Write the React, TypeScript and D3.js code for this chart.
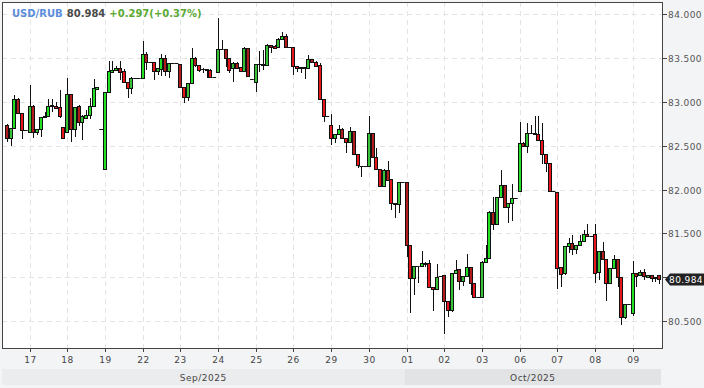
import * as d3 from "d3";

// USD/RUB hourly candles, 16 Sep - 09 Oct 2025 (one row per trading day)
const opens = [
  82.736, 82.584, 82.698, 83.029, 82.869, 82.675,
  82.660, 82.953, 82.660, 82.690, 82.824, 82.843, 82.965, 82.953, 82.938, 82.710,
  82.652, 83.090, 82.690, 82.953, 82.774, 82.820, 82.846, 82.953, 83.143, 82.690,
  82.230, 83.109, 83.345, 83.364, 83.383, 83.352, 83.223, 83.155, 83.276, 83.276,
  83.269, 83.543, 83.459, 83.459, 83.353, 83.375, 83.505, 83.352, 83.440, 83.440,
  83.429, 83.174, 83.060, 83.212, 83.505, 83.421, 83.376, 83.370, 83.364, 83.280,
  83.338, 83.604, 83.604, 83.497, 83.383, 83.440, 83.400, 83.353, 83.612, 83.265,
  83.224, 83.433, 83.433, 83.425, 83.649, 83.642, 83.630, 83.717, 83.756, 83.623,
  83.623, 83.414, 83.400, 83.400, 83.391, 83.486, 83.459, 83.425, 83.033, 82.843,
  82.736, 82.584, 82.630, 82.691, 82.584, 82.539, 82.668, 82.402, 82.272, 82.272,
  82.272, 82.641, 82.375, 82.234, 82.044, 82.223, 82.120, 81.842, 81.831, 82.082,
  82.082, 81.366, 80.985, 81.126, 81.126, 81.164, 81.157, 80.883, 80.860, 81.012,
  81.024, 80.731, 80.624, 81.050, 81.088, 80.959, 81.012, 81.111, 80.928, 80.769,
  80.769, 81.176, 81.214, 81.746, 81.602, 81.910, 82.047, 81.804, 81.849, 81.899,
  81.979, 82.527, 82.496, 82.641, 82.641, 82.633, 82.565, 82.405, 82.306, 81.986,
  81.967, 81.111, 81.043, 81.355, 81.385, 81.317, 81.362, 81.412, 81.492, 81.469,
  81.492, 81.062, 81.298, 81.202, 80.929, 81.100, 81.202, 81.005, 80.548, 80.689,
  80.586, 81.043, 81.024, 81.062, 81.005, 81.030, 80.986, 81.020,
];
const highs = [
  82.744, 82.698, 83.078, 83.040, 82.869, 82.675,
  83.193, 82.960, 82.690, 82.830, 82.888, 83.029, 83.029, 83.000, 83.136, 82.710,
  83.269, 83.090, 82.940, 82.960, 82.850, 82.910, 83.040, 83.261, 83.170, 82.690,
  83.109, 83.467, 83.467, 83.410, 83.467, 83.370, 83.223, 83.280, 83.276, 83.276,
  83.695, 83.566, 83.459, 83.460, 83.390, 83.543, 83.540, 83.440, 83.440, 83.440,
  83.430, 83.174, 83.220, 83.611, 83.510, 83.421, 83.390, 83.375, 83.370, 83.280,
  83.954, 83.707, 83.604, 83.500, 83.450, 83.450, 83.400, 83.630, 83.620, 83.265,
  83.433, 83.581, 83.593, 83.660, 83.650, 83.645, 83.726, 83.794, 83.780, 83.623,
  83.623, 83.414, 83.400, 83.400, 83.535, 83.490, 83.470, 83.440, 83.033, 82.843,
  82.858, 82.630, 82.737, 82.706, 82.584, 82.718, 82.668, 82.402, 82.272, 82.272,
  82.843, 82.650, 82.470, 82.234, 82.230, 82.326, 82.120, 81.842, 82.082, 82.082,
  82.089, 81.366, 81.130, 81.130, 81.300, 81.170, 81.190, 80.883, 81.149, 81.012,
  81.024, 80.731, 81.050, 81.195, 81.088, 81.012, 81.263, 81.111, 80.928, 80.769,
  81.180, 81.366, 81.750, 81.910, 81.910, 82.222, 82.047, 81.849, 82.062, 81.899,
  82.766, 82.540, 82.760, 82.736, 82.838, 82.838, 82.760, 82.405, 82.306, 81.986,
  81.971, 81.111, 81.355, 81.442, 81.480, 81.362, 81.480, 81.537, 81.606, 81.469,
  81.606, 81.298, 81.404, 81.202, 81.100, 81.252, 81.202, 81.005, 80.689, 80.689,
  81.187, 81.043, 81.081, 81.090, 81.025, 81.030, 81.000, 81.020,
];
const lows = [
  82.538, 82.500, 82.690, 82.869, 82.576, 82.675,
  82.660, 82.584, 82.622, 82.603, 82.820, 82.840, 82.888, 82.920, 82.812, 82.584,
  82.650, 82.546, 82.603, 82.730, 82.565, 82.800, 82.800, 82.950, 83.140, 82.690,
  82.230, 83.100, 83.330, 83.360, 83.250, 83.220, 83.048, 83.090, 83.276, 83.276,
  83.269, 83.364, 83.459, 83.250, 83.307, 83.300, 83.290, 83.270, 83.440, 83.440,
  83.170, 82.984, 83.010, 83.210, 83.400, 83.338, 83.330, 83.270, 83.280, 83.280,
  83.330, 83.600, 83.395, 83.326, 83.231, 83.380, 83.350, 83.350, 83.290, 83.265,
  83.117, 83.345, 83.364, 83.420, 83.555, 83.600, 83.620, 83.710, 83.620, 83.623,
  83.310, 83.345, 83.327, 83.260, 83.390, 83.450, 83.410, 83.029, 82.765, 82.843,
  82.508, 82.527, 82.625, 82.584, 82.413, 82.539, 82.402, 82.242, 82.147, 82.272,
  82.270, 82.375, 82.234, 82.044, 82.044, 82.109, 81.766, 81.679, 81.728, 82.082,
  81.234, 80.586, 80.795, 80.936, 81.120, 81.120, 80.883, 80.616, 80.860, 81.012,
  80.350, 80.548, 80.600, 81.050, 80.853, 80.900, 81.012, 80.795, 80.769, 80.769,
  80.769, 81.176, 81.214, 81.537, 81.600, 81.910, 81.800, 81.613, 81.644, 81.899,
  81.979, 82.490, 82.412, 82.640, 82.630, 82.560, 82.290, 82.200, 81.986, 81.986,
  80.860, 80.890, 81.030, 81.270, 81.250, 81.263, 81.360, 81.410, 81.469, 81.469,
  80.928, 80.966, 81.202, 80.731, 80.929, 81.100, 80.883, 80.449, 80.518, 80.689,
  80.556, 80.890, 81.024, 80.970, 81.005, 80.950, 80.940, 80.925,
];
const closes = [
  82.584, 82.698, 83.029, 82.869, 82.675, 82.675,
  82.953, 82.660, 82.690, 82.824, 82.843, 82.953, 82.950, 82.926, 82.843, 82.584,
  83.090, 82.690, 82.938, 82.774, 82.839, 82.850, 82.953, 83.155, 83.170, 82.690,
  83.109, 83.352, 83.364, 83.383, 83.345, 83.223, 83.155, 83.276, 83.276, 83.276,
  83.543, 83.459, 83.459, 83.353, 83.383, 83.505, 83.352, 83.440, 83.440, 83.440,
  83.174, 83.060, 83.212, 83.505, 83.421, 83.364, 83.376, 83.364, 83.280, 83.280,
  83.604, 83.604, 83.497, 83.364, 83.440, 83.391, 83.353, 83.612, 83.300, 83.265,
  83.433, 83.433, 83.425, 83.649, 83.623, 83.612, 83.717, 83.756, 83.623, 83.623,
  83.414, 83.391, 83.390, 83.390, 83.486, 83.452, 83.414, 83.033, 82.843, 82.843,
  82.584, 82.630, 82.691, 82.584, 82.539, 82.668, 82.402, 82.280, 82.272, 82.272,
  82.641, 82.375, 82.234, 82.044, 82.223, 82.109, 81.842, 81.835, 82.082, 82.082,
  81.366, 80.985, 81.126, 81.126, 81.164, 81.160, 80.883, 80.860, 80.997, 81.012,
  80.731, 80.624, 81.050, 81.080, 80.959, 81.012, 81.111, 80.928, 80.769, 80.769,
  81.176, 81.214, 81.746, 81.602, 81.910, 82.047, 81.804, 81.849, 81.899, 81.899,
  82.527, 82.496, 82.641, 82.641, 82.633, 82.565, 82.405, 82.306, 81.986, 81.986,
  81.100, 81.031, 81.355, 81.385, 81.317, 81.362, 81.412, 81.492, 81.469, 81.469,
  81.050, 81.298, 81.202, 80.929, 81.100, 81.202, 81.005, 80.548, 80.689, 80.689,
  81.050, 81.012, 81.062, 81.012, 81.025, 80.990, 81.000, 80.984,
];

const dayLabels = ["17", "18", "19", "22", "23", "24", "25", "26", "29", "30", "01", "02", "03", "06", "07", "08", "09"];
const dayStarts = [6, 16, 26, 36, 46, 56, 66, 76, 86, 96, 106, 116, 126, 136, 146, 156, 166];
const monthLabels = ["Sep/2025", "Oct/2025"];
const monthStarts = [0, 106];
const priceTicks = [80.5, 81, 81.5, 82, 82.5, 83, 83.5, 84];

const symbol = "USD/RUB";
const lastPrice = "80.984";
const change = "+0.297(+0.37%)";

const W = 704;
const H = 388;
const left = 2;
const top = 2;
const right = 663;
const bottom = 349;

const font = "'DejaVu Sans', sans-serif";

export default function App() {
  const n = closes.length;
  const x = d3.scaleBand<number>().domain(d3.range(n)).range([5, 661]);
  const y = d3.scaleLinear().domain([80.18, 84.14]).range([bottom, top]);
  const step = x.step();
  const cx = (i: number) => (x(i) as number) + step / 2;
  const fmt = d3.format(".3f");

  const dir = (i: number) => Math.sign(closes[i] - opens[i]);
  const prevDir = (i: number) => {
    for (let k = i - 1; k >= 0; k--) if (dir(k) !== 0) return dir(k);
    return 0;
  };

  const candles = d3.range(n).map((i) => {
    const c = cx(i);
    const bx = Math.round(c - 2) + 0.5;
    const wx = Math.round(c - 2) + 2.5;
    const o = opens[i];
    const cl = closes[i];
    const hi = Math.max(highs[i], o, cl);
    const lo = Math.min(lows[i], o, cl);
    const d = dir(i);
    const turn = prevDir(i) !== d;
    const fill = d > 0 ? (turn ? "#38c238" : "#22e022") : turn ? "#b01c1c" : "#e8161b";
    const yt = Math.round(y(Math.max(o, cl))) + 0.5;
    const yb = Math.round(y(Math.min(o, cl))) + 0.5;
    return (
      <g key={i}>
        {hi > lo && (
          <line x1={wx} x2={wx} y1={Math.round(y(hi))} y2={Math.round(y(lo))} stroke="#111" strokeWidth={1} />
        )}
        {d === 0 ? (
          <line x1={c - step / 2} x2={c + step / 2} y1={yt} y2={yt} stroke="#111" strokeWidth={1} />
        ) : (
          <rect x={bx} y={yt} width={3} height={Math.max(1, yb - yt)} fill={fill} stroke="#111" strokeWidth={1} />
        )}
      </g>
    );
  });

  const lastY = Math.round(y(closes[n - 1])) + 0.5;

  return (
    <svg
      width={W}
      height={H}
      style={{ position: "absolute", left: 0, top: 0, display: "block" }}
      fontFamily={font}
    >
      <rect width={W} height={H} fill="#f3f4f6" />
      <rect x={left} y={top} width={right - left} height={bottom - top} fill="#fff" />

      {/* grid */}
      {priceTicks.map((t) => (
        <line key={t} x1={left} x2={right} y1={Math.round(y(t)) + 0.5} y2={Math.round(y(t)) + 0.5}
          stroke="#e4e4e4" strokeDasharray="5,4" />
      ))}
      {dayStarts.map((s) => (
        <line key={s} x1={Math.round(cx(s)) + 0.5} x2={Math.round(cx(s)) + 0.5} y1={top} y2={bottom}
          stroke="#e4e4e4" strokeDasharray="5,4" />
      ))}

      {/* header */}
      <text x={12} y={17} fontSize={10} fontWeight="bold">
        <tspan fill="#5b8ddb">{symbol}</tspan>
        <tspan fill="#4a4a4a" dx={4}>{lastPrice}</tspan>
        <tspan fill="#5aaa35" dx={4}>{change}</tspan>
      </text>

      {candles}

      {/* frame */}
      <rect x={left + 0.5} y={top + 0.5} width={right - left - 1} height={bottom - top - 1}
        fill="none" stroke="#444" strokeWidth={1} />

      {/* right axis: labels hidden where the last-price tag sits */}
      {priceTicks.map((t) => {
        const ty = Math.round(y(t)) + 0.5;
        return (
          <g key={t} transform={`translate(0,${ty})`}>
            <line x1={right} x2={right + 4} stroke="#444" />
            {Math.abs(ty - lastY) > 10 && (
              <text x={right + 5} dy="0.35em" fontSize={9} fill="#555" letterSpacing={0.4}>{fmt(t)}</text>
            )}
          </g>
        );
      })}

      {/* last price tag */}
      <g transform={`translate(0,${lastY})`}>
        <path d={`M${right + 2},0 L${right + 7},-6 L${W},-6 L${W},6 L${right + 7},6 Z`} fill="#222" />
        <text x={right + 6} dy="0.35em" fontSize={9} fill="#fff" letterSpacing={0.4}>{lastPrice}</text>
      </g>

      {/* bottom axis */}
      {dayStarts.map((s, k) => (
        <g key={s} transform={`translate(${Math.round(cx(s)) + 0.5},0)`}>
          <line y1={bottom} y2={bottom + 3} stroke="#444" />
          <text y={bottom + 14} textAnchor="middle" fontSize={9} fill="#444" letterSpacing={0.6}>{dayLabels[k]}</text>
        </g>
      ))}

      {/* month bands */}
      {monthStarts.map((s, k) => {
        const x0 = k === 0 ? left : (x(s) as number);
        const x1 = k === monthStarts.length - 1 ? (x(n - 1) as number) + step : (x(monthStarts[k + 1]) as number);
        return (
          <g key={s}>
            <rect x={x0} y={369} width={x1 - x0} height={16} fill={k === 0 ? "#ebecee" : "#e2e3e5"} />
            <text x={(x0 + x1) / 2} y={381} textAnchor="middle" fontSize={9} fill="#444" letterSpacing={0.5}>
              {monthLabels[k]}
            </text>
          </g>
        );
      })}
    </svg>
  );
}
